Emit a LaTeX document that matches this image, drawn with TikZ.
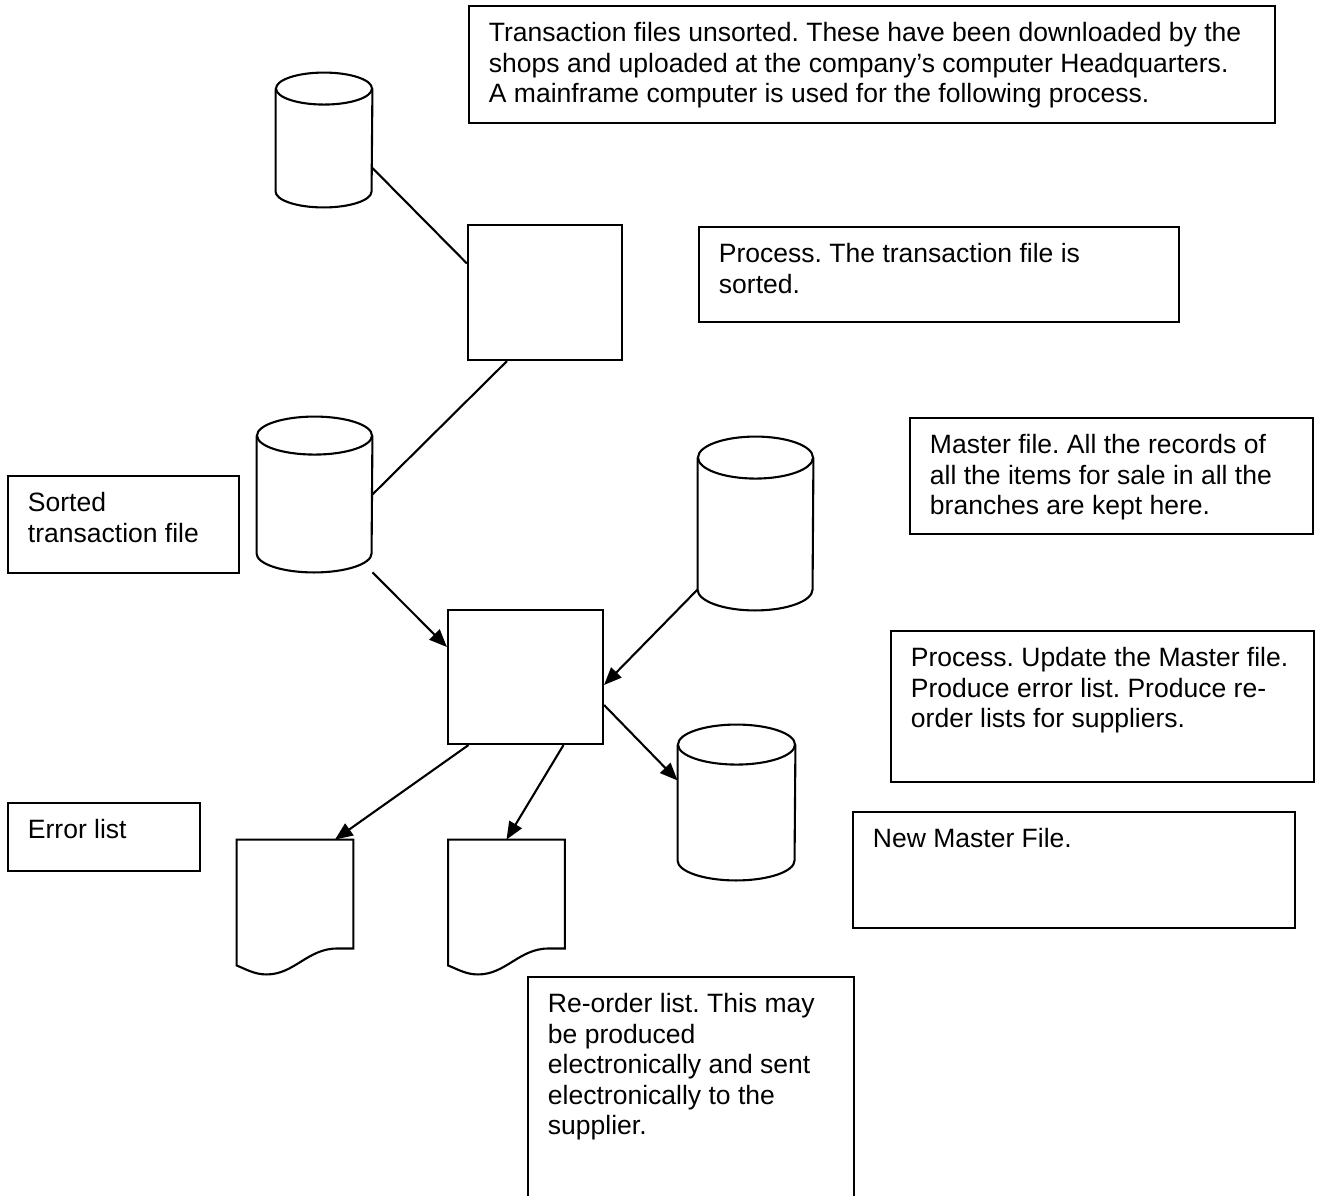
\documentclass[tikz,border=0pt]{standalone}
\usepackage{fontspec}
\setmainfont{Liberation Sans}
\usetikzlibrary{arrows.meta, calc}

% one pixel of the layout grid
\newlength{\px}
\setlength{\px}{0.4525pt}

% framed comment: name, x, y, width, height, text
\newcommand{\infobox}[6]{%
  \node[note] (#1) at (#2,#3)
    {\parbox[c][\dimexpr#5\px-15pt\relax][t]{\dimexpr#4\px-18pt\relax}{#6}};}

% page edge of a printed document
\newcommand{\docedge}[1]{%
  \draw[link] ($(#1.south west)+(0,-9)$) -- (#1.north west) -- (#1.north east)
    -- ($(#1.south east)+(0,-26)$) -- ++(-16,0)
    .. controls +(-30,0) and +(28,0) .. ($(#1.south west)+(30,0)$)
    .. controls +(-12,0) and +(10,4) .. cycle;}

% outline of a disk file: name, half width, half height of the lid
\newcommand{\canedge}[3]{%
  \draw[link] ($(#1.north)+(0,#3)$) ellipse [x radius=#2\px, y radius=#3\px];
  \draw[link] ($(#1.north west)+(0,#3)$) -- ($(#1.south west)+(0,-#3)$)
    arc [start angle=180, end angle=360, x radius=#2\px, y radius=#3\px]
    -- ($(#1.north east)+(0,#3)$);}

\begin{document}
\begin{tikzpicture}[
    x=\px, y=-\px,
    link/.style={draw, line width=0.95pt},
    flow/.style={link, -{Triangle[length=8pt,width=6.5pt]}},
    proc/.style={
        rectangle,
        draw,
        line width=0.95pt,
        inner sep=0pt
    },
    store/.style={rectangle, inner sep=0pt},
    page/.style={rectangle, inner sep=0pt, minimum width=116\px, minimum height=134\px},
    note/.style={
        draw,
        line width=0.95pt,
        anchor=north west,
        inner xsep=9pt,
        inner ysep=7.5pt,
        font=\frenchspacing\fontsize{12}{13.8}\selectfont
    }
]
    \useasboundingbox (0,0) rectangle (1319,1196);

    % Nodos
    \node [store, minimum width=96\px, minimum height=134\px] (rawfile) at (324,140) {};
    \node [proc, minimum width=154\px, minimum height=135\px] (sortproc) at (545,292.5) {};
    \node [store, minimum width=115\px, minimum height=155\px] (sortedfile) at (314.5,494.5) {};
    \node [store, minimum width=115\px, minimum height=173\px] (masterfile) at (755.5,523.5) {};
    \node [proc, minimum width=155\px, minimum height=134\px] (updateproc) at (525.5,677) {};
    \node [store, minimum width=117\px, minimum height=155\px] (newmaster) at (736.5,802.5) {};
    \node [page] (errordoc) at (295,907) {};
    \node [page] (reorderdoc) at (506.5,907) {};
    \canedge{rawfile}{48}{16}
    \canedge{sortedfile}{57.5}{19}
    \canedge{masterfile}{57.5}{21}
    \canedge{newmaster}{58.5}{20}
    \docedge{errordoc}
    \docedge{reorderdoc}

    % Comments
    \infobox{unsortednote}{468}{5}{806}{117}{Transaction files unsorted. These have been downloaded by the\\
      shops and uploaded at the company’s computer Headquarters.\\
      A mainframe computer is used for the following process.}
    \infobox{sortnote}{698}{226}{480}{95}{Process. The transaction file is\\sorted.}
    \infobox{masternote}{909}{417}{403}{116}{Master file. All the records of\\
      all the items for sale in all the\\branches are kept here.}
    \infobox{sortednote}{7}{475}{231}{97}{Sorted\\transaction file}
    \infobox{updatenote}{890}{630}{423}{151}{Process. Update the Master file.\\
      Produce error list. Produce re-\\order lists for suppliers.}
    \infobox{errornote}{7}{802}{192}{68}{Error list}
    \infobox{newmasternote}{852}{811}{442}{116}{New Master File.}
    \infobox{reordernote}{527}{976}{326}{240}{Re-order list. This may\\be produced\\
      electronically and sent\\electronically to the\\supplier.}

    % Conexiones
    \path [link] ($(rawfile.east)+(0,28)$) -- ($(sortproc.west)+(0,-29)$);
    \path [link] ($(sortproc.south)+(-38,0)$) -- (sortedfile.east);
    \path [flow] ($(sortedfile.south)+(58,0)$) -- ($(updateproc.west)+(0,-30)$);
    \path [flow] ($(masterfile.west)+(0,66)$) -- ($(updateproc.east)+(0,8)$);
    \path [flow] ($(updateproc.east)+(0,28)$) -- ($(newmaster.west)+(0,-22)$);
    \path [flow] ($(updateproc.south)+(-57,0)$) -- ($(errordoc.north)+(40,0)$);
    \path [flow] ($(updateproc.south)+(38,0)$) -- (reorderdoc.north);

\end{tikzpicture}
\end{document}
